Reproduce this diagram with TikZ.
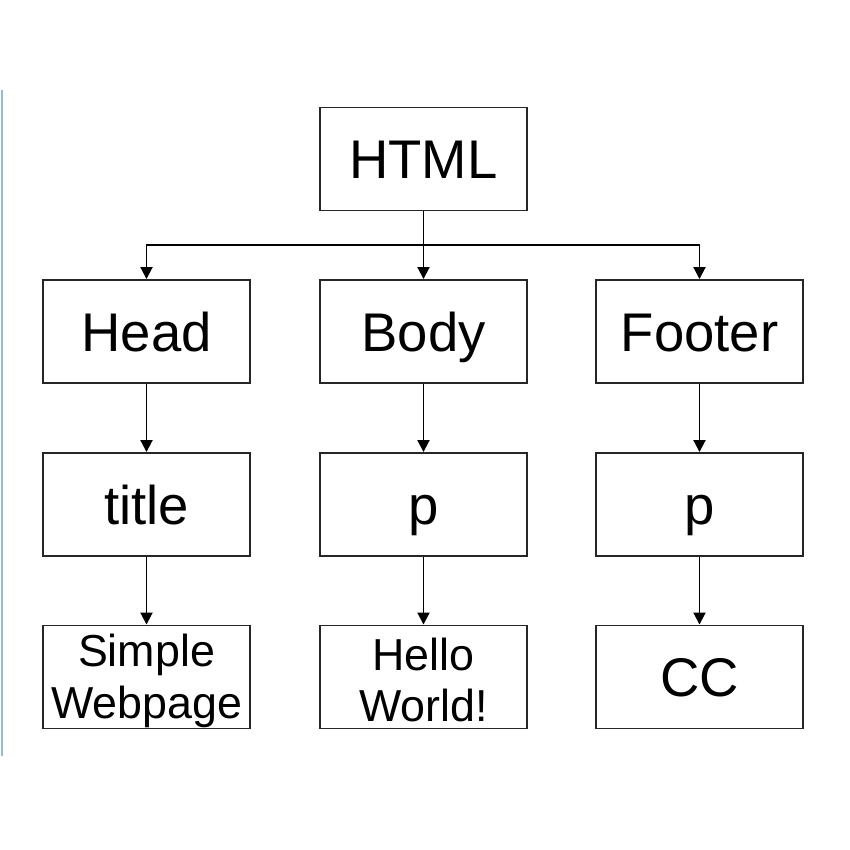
\documentclass[tikz,border=0pt]{standalone}
\usepackage{fontspec}
\setmainfont{Liberation Sans}
\usetikzlibrary{arrows.meta}
\begin{document}
\begin{tikzpicture}[x=0.02cm,y=-0.02cm,
  box/.style={draw=black!85,line width=1.1pt,minimum width=4.14cm,minimum height=2.06cm,inner sep=0pt,fill=white,font=\fontsize{31}{34}\selectfont,text height=22.2pt,text depth=0pt},
  smallbox/.style={draw=black!85,line width=1.1pt,minimum width=4.14cm,minimum height=2.06cm,inner sep=0pt,fill=white,font=\fontsize{25.5}{29.5}\selectfont,align=center},
  arr/.style={line width=1.1pt,-{Triangle[width=0.24cm,length=0.24cm]}}]
\useasboundingbox (0,0) rectangle (850,850);
\fill[white] (0,0) rectangle (850,850);
\draw[color={rgb,255:red,150;green,185;blue,215},line width=1pt] (2,90) -- (2,756);
\node[box] (html) at (423.5,159) {HTML};
\node[box] (head) at (146.5,331.5) {Head};
\node[box] (body) at (423.5,331.5) {Body};
\node[box] (footer) at (699.5,331.5) {Footer};
\node[box] (title) at (146.5,504.5) {title};
\node[box] (p1) at (423.5,504.5) {p};
\node[box] (p2) at (699.5,504.5) {p};
\node[smallbox] (simple) at (146.5,677) {};
\node[smallbox] (hello) at (423.5,677) {};
\node[box] (cc) at (699.5,677) {CC};
\node[font=\fontsize{25.5}{29.5}\selectfont,align=center,inner sep=0pt] (simplet) at (146.5,681) {Simple\\Webpage};
\node[font=\fontsize{25.5}{29.5}\selectfont,align=center,inner sep=0pt] (hellot) at (423.5,680) {Hello\\World!};
\coordinate (bar) at (423.5,245);
\draw[line width=1.1pt] (html.south) -- (bar);
\draw[arr] (bar) -| (head.north);
\draw[arr] (bar) -- (body.north);
\draw[arr] (bar) -| (footer.north);
\draw[arr] (head) -- (title);
\draw[arr] (body) -- (p1);
\draw[arr] (footer) -- (p2);
\draw[arr] (title) -- (simple);
\draw[arr] (p1) -- (hello);
\draw[arr] (p2) -- (cc);
\end{tikzpicture}
\end{document}
